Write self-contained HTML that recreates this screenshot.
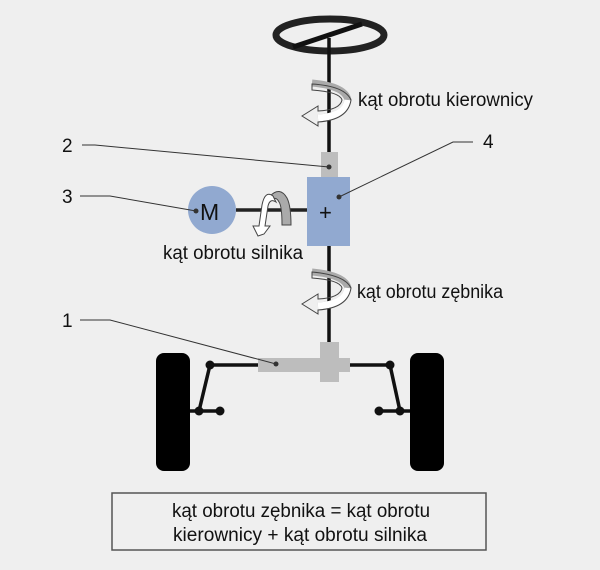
<!DOCTYPE html>
<html><head><meta charset="utf-8"><style>
html,body{margin:0;padding:0;background:#efefef;}
svg{display:block;}
text{font-family:"Liberation Sans",sans-serif;fill:#111;}
</style></head><body>
<svg width="600" height="570" viewBox="0 0 600 570" xmlns="http://www.w3.org/2000/svg">
<rect width="600" height="570" fill="#efefef"/>
<ellipse cx="330" cy="35" rx="54" ry="16" fill="none" stroke="#222" stroke-width="7"/>
<line x1="293" y1="47" x2="362" y2="24" stroke="#111" stroke-width="5"/>
<line x1="329" y1="38" x2="329" y2="355" stroke="#111" stroke-width="3.5"/>
<!-- rotation arrow top -->
<path d="M312 83 Q345 86 348 100 Q346 116 318 118" fill="none" stroke="#aaa" stroke-width="7"/>
<path d="M348 100 Q346 116 318 118" fill="none" stroke="#fff" stroke-width="7"/>
<path d="M312 84 Q345 86 351 100 Q348 120 318 122 L318 126 L302 116 L318 106 L318 111 Q340 110 342 100 Q340 92 312 90 Z" fill="none" stroke="#444" stroke-width="1"/>
<text x="358" y="106" font-size="19" textLength="175" lengthAdjust="spacingAndGlyphs">kąt obrotu kierownicy</text>
<path d="M312 272 Q345 275 348 288 Q346 304 318 306" fill="none" stroke="#aaa" stroke-width="7"/>
<path d="M348 288 Q346 304 318 306" fill="none" stroke="#fff" stroke-width="7"/>
<path d="M312 272 Q345 275 351 288 Q348 308 318 310 L318 314 L302 304 L318 294 L318 299 Q340 298 342 288 Q340 280 312 278 Z" fill="none" stroke="#444" stroke-width="1"/>
<text x="357" y="298" font-size="19" textLength="146" lengthAdjust="spacingAndGlyphs">kąt obrotu zębnika</text>
<rect x="321" y="152" width="17" height="26" fill="#bdbdbd"/>
<rect x="307" y="177" width="43" height="69" fill="#91a9d0"/>
<text x="319" y="220" font-size="22" fill="#222">+</text>
<line x1="236" y1="210" x2="307" y2="210" stroke="#222" stroke-width="3.5"/>
<circle cx="212" cy="210" r="24" fill="#91a9d0"/>
<text x="200" y="220" font-size="23">M</text>
<!-- motor rotation -->
<path d="M270 196 Q280 186 287 198 Q291 206 291 225 L282 225 Q282 206 279 202 Q276 196 272 200 Z" fill="#aaa" stroke="#444" stroke-width="1"/>
<path d="M273 196 Q265 190 262 205 L259 226 L253 226 L258 236 L264 234 L270 226 L265 226 L268 206 Q270 198 276 202 Z" fill="#fff" stroke="#444" stroke-width="1"/>
<text x="163" y="259" font-size="19" textLength="140" lengthAdjust="spacingAndGlyphs">kąt obrotu silnika</text>
<line x1="210" y1="365" x2="258" y2="365" stroke="#111" stroke-width="3.5"/>
<line x1="350" y1="365" x2="390" y2="365" stroke="#111" stroke-width="3.5"/>
<rect x="258" y="358" width="92" height="14" fill="#bdbdbd"/>
<rect x="320" y="342" width="19" height="40" fill="#bdbdbd"/>
<line x1="210" y1="365" x2="199" y2="411" stroke="#111" stroke-width="3.5"/>
<line x1="190" y1="411" x2="220" y2="411" stroke="#111" stroke-width="3.5"/>
<circle cx="210" cy="365" r="4.5" fill="#111"/><circle cx="199" cy="411" r="4.5" fill="#111"/><circle cx="220" cy="411" r="4.5" fill="#111"/>
<line x1="390" y1="365" x2="400" y2="411" stroke="#111" stroke-width="3.5"/>
<line x1="379" y1="411" x2="410" y2="411" stroke="#111" stroke-width="3.5"/>
<circle cx="390" cy="365" r="4.5" fill="#111"/><circle cx="400" cy="411" r="4.5" fill="#111"/><circle cx="379" cy="411" r="4.5" fill="#111"/>
<rect x="156" y="353" width="34" height="118" rx="8" fill="#000"/>
<rect x="410" y="353" width="34" height="118" rx="8" fill="#000"/>
<g stroke="#333" stroke-width="1" fill="none">
<polyline points="82,145 95,145 329,167"/>
<polyline points="80,196 110,196 196,211"/>
<polyline points="473,142 453,142 339,197"/>
<polyline points="80,320 110,320 276,364"/>
</g>
<g fill="#333"><circle cx="329" cy="167" r="2.5"/><circle cx="196" cy="211" r="2.5"/><circle cx="339" cy="197" r="2.5"/><circle cx="276" cy="364" r="2.5"/></g>
<text x="62" y="152" font-size="19">2</text>
<text x="62" y="203" font-size="19">3</text>
<text x="483" y="148" font-size="19">4</text>
<text x="62" y="327" font-size="19">1</text>
<rect x="112" y="493" width="374" height="57" fill="none" stroke="#555" stroke-width="1.5"/>
<text x="172" y="517" font-size="19" textLength="258" lengthAdjust="spacingAndGlyphs">kąt obrotu zębnika = kąt obrotu</text>
<text x="173" y="541" font-size="19" textLength="254" lengthAdjust="spacingAndGlyphs">kierownicy + kąt obrotu silnika</text>
</svg>
</body></html>
